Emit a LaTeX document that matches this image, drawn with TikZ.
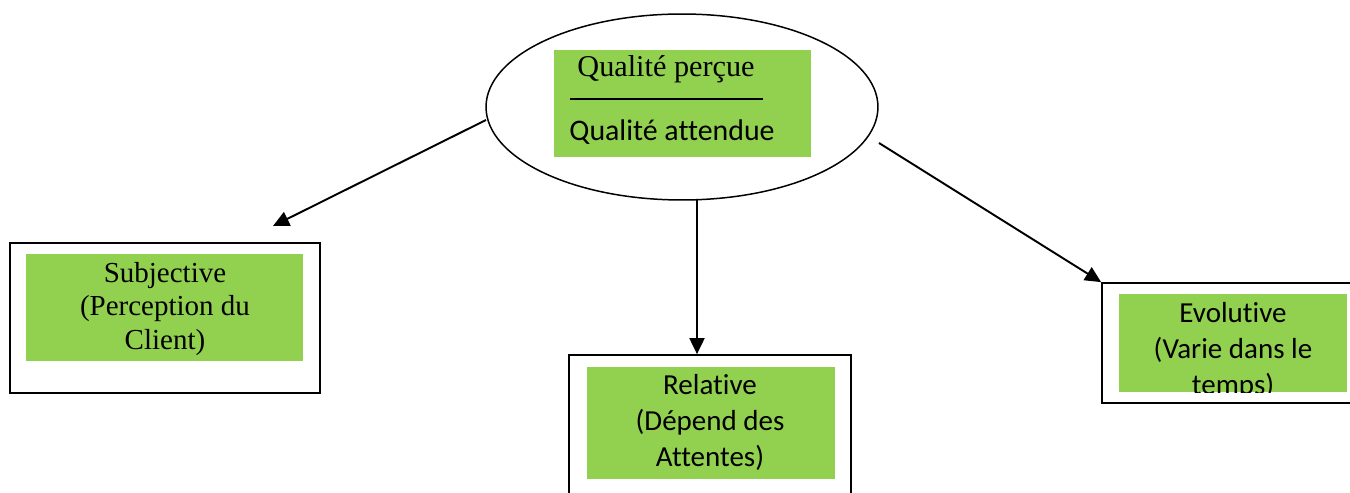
\documentclass[tikz,border=0pt]{standalone}
\usepackage{fontspec}
\setmainfont{Liberation Serif}
\newfontfamily\calibfont[Ligatures=NoCommon]{Carlito}
\usetikzlibrary{arrows.meta,shapes.geometric}
\definecolor{leaf}{HTML}{92D050}
\begin{document}
\begin{tikzpicture}[x=0.02cm,y=-0.02cm,
  outerbox/.style={draw=black,line width=1pt,fill=white,inner sep=0pt,minimum width=#1},
  greenbox/.style={fill=leaf,inner sep=0pt},
  serifline/.style={font=\fontsize{16.5}{19}\selectfont,align=center,inner sep=0pt},
  sansline/.style={font=\calibfont\fontsize{16.5}{20.5}\selectfont,align=center,inner sep=0pt},
  link/.style={line width=1.1pt,-{Triangle[length=0.32cm,width=0.3cm]}}]
\useasboundingbox (0,0) rectangle (1350,493);
\clip (0,0) rectangle (1350,493);

% central ellipse with the ratio
\node[draw,line width=0.85pt,ellipse,minimum width=7.84cm,minimum height=3.72cm,inner sep=0pt] (ell) at (682,107) {};
\node[greenbox,minimum width=5.14cm,minimum height=2.14cm] (ratio) at (682.5,103.5) {};
\node[serifline,font=\fontsize{17.2}{19}\selectfont,anchor=base] (num) at (666,77) {Qualité perçue};
\node[sansline,font=\calibfont\fontsize{17}{20}\selectfont,anchor=base] (den) at (672,141) {Qualité attendue};
\coordinate (barL) at (570,99);
\coordinate (barR) at (763,99);
\draw[line width=1pt] (barL) -- (barR);

% left box
\node[outerbox=6.2cm,minimum height=3.0cm] (subj) at (165,318) {};
\node[greenbox,minimum width=5.54cm,minimum height=2.14cm] (subjg) at (164.5,307.5) {};
\node[serifline] (subjt) at (165,309) {Subjective\\(Perception du\\Client)};

% middle box
\node[outerbox=5.64cm,minimum height=3.3cm] (rel) at (710,437.5) {};
\node[greenbox,minimum width=4.96cm,minimum height=2.24cm] (relg) at (711,423) {};
\node[sansline] (relt) at (710,422) {Relative\\(Dépend des\\Attentes)};

% right box, its last line cut by the green panel
\node[outerbox=5.36cm,minimum height=2.4cm] (evo) at (1236,343) {};
\node[greenbox,minimum width=4.56cm,minimum height=1.96cm] (evog) at (1233,343) {};
\begin{scope}
  \clip (evog.south west) rectangle (evog.north east);
  \node[sansline] (evot) at (1233,351) {Evolutive\\(Varie dans le\\temps)};
\end{scope}

% connectors
\coordinate (fromL) at (486,120);
\coordinate (toL) at (273,226);
\coordinate (fromM) at (697,200);
\coordinate (fromR) at (879,143);
\draw[link] (fromL) -- (toL);
\draw[link] (fromM) -- (fromM |- rel.north);
\draw[link] (fromR) -- (evo.north west);
\end{tikzpicture}
\end{document}
